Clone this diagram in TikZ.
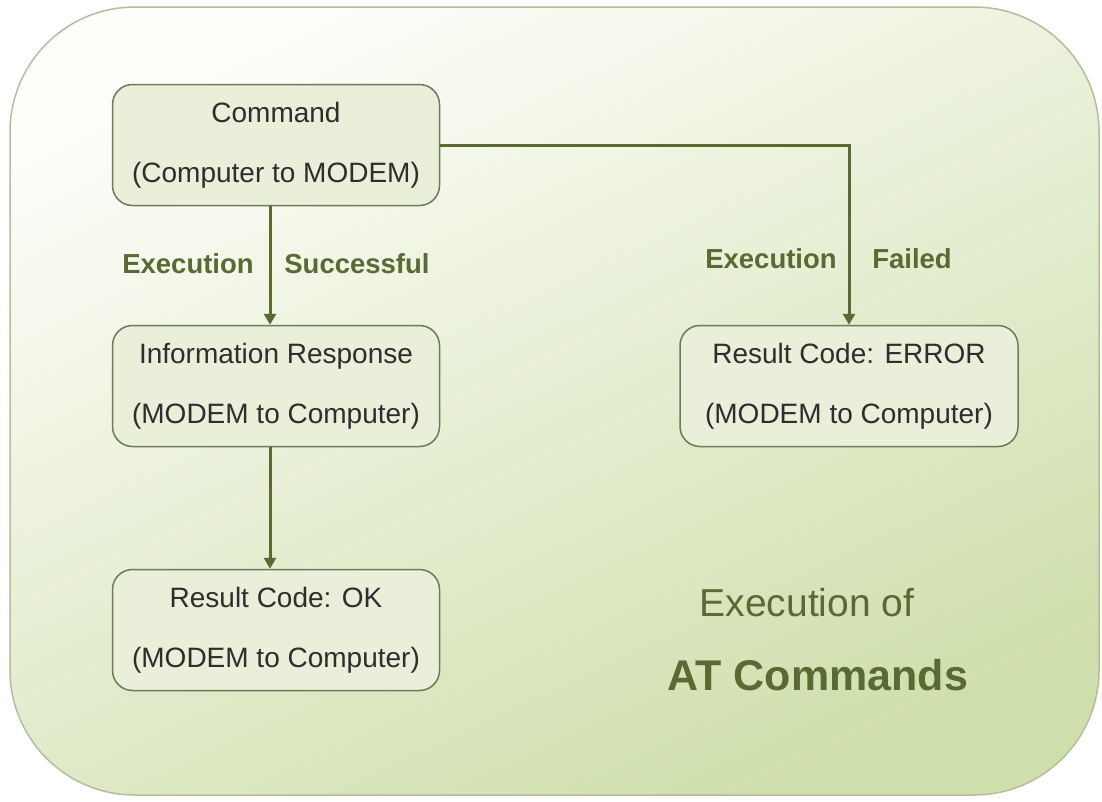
\documentclass[tikz,border=0pt]{standalone}
\usepackage{fontspec}
\setmainfont{Liberation Sans}
\usetikzlibrary{arrows.meta,positioning}
\definecolor{bgA}{HTML}{FDFDF9}
\definecolor{bgB}{HTML}{CFDFAC}
\definecolor{bgEdge}{HTML}{B4BE9C}
\definecolor{boxFill}{HTML}{E9EFD8}
\definecolor{boxEdge}{HTML}{6E7A58}
\definecolor{arrowC}{HTML}{5A6B32}
\definecolor{labC}{HTML}{596B33}
\definecolor{txtC}{HTML}{2E2E2E}
\tikzset{
  flowbox/.style={draw=boxEdge, line width=1.5pt, fill=boxFill, rounded corners=20pt,
    minimum width=327pt, minimum height=121pt, align=center, text=txtC,
    font=\fontsize{28}{60}\selectfont, inner sep=0pt},
  flowarrow/.style={draw=arrowC, line width=3pt, -{Triangle[width=12pt,length=11pt]}},
  edgelab/.style={text=labC, font=\bfseries\fontsize{27.5}{32}\selectfont, inner sep=0pt},
  titlelab/.style={text=labC, font=\fontsize{39}{46}\selectfont, inner sep=0pt}
}
\begin{document}
\begin{tikzpicture}[x=1pt,y=-1pt]
\useasboundingbox (0,0) rectangle (1102,801);
\shade[top color=bgA, bottom color=bgB, shading angle=25, draw=bgEdge, line width=1.5pt, rounded corners=125pt]
  (10,7) rectangle (1099,795);

\node[flowbox] (cmd) at (276,145) {Command\\(Computer to MODEM)};
\node[flowbox] (info) at (276,386) {Information Response\\(MODEM to Computer)};
\node[flowbox] (ok) at (276,630) {Result Code: OK\\(MODEM to Computer)};
\node[flowbox, minimum width=338pt] (err) at (849,386) {Result Code: ERROR\\(MODEM to Computer)};

\draw[flowarrow] ([xshift=-6pt]cmd.south) -- ([xshift=-6pt]info.north);
\draw[flowarrow] ([xshift=-6pt]info.south) -- ([xshift=-6pt]ok.north);
\draw[flowarrow] (cmd.east) -| (err.north);

\node[edgelab] (l1) at (188,264) {Execution};
\node[edgelab] (l2) at (357,264) {Successful};
\node[edgelab] (l3) at (771,259) {Execution};
\node[edgelab] (l4) at (912,259) {Failed};

\node[titlelab] (t1) at (807,603) {Execution of};
\node[titlelab, font=\bfseries\fontsize{43}{50}\selectfont] (t2) at (818,675) {AT Commands};
\end{tikzpicture}
\end{document}
